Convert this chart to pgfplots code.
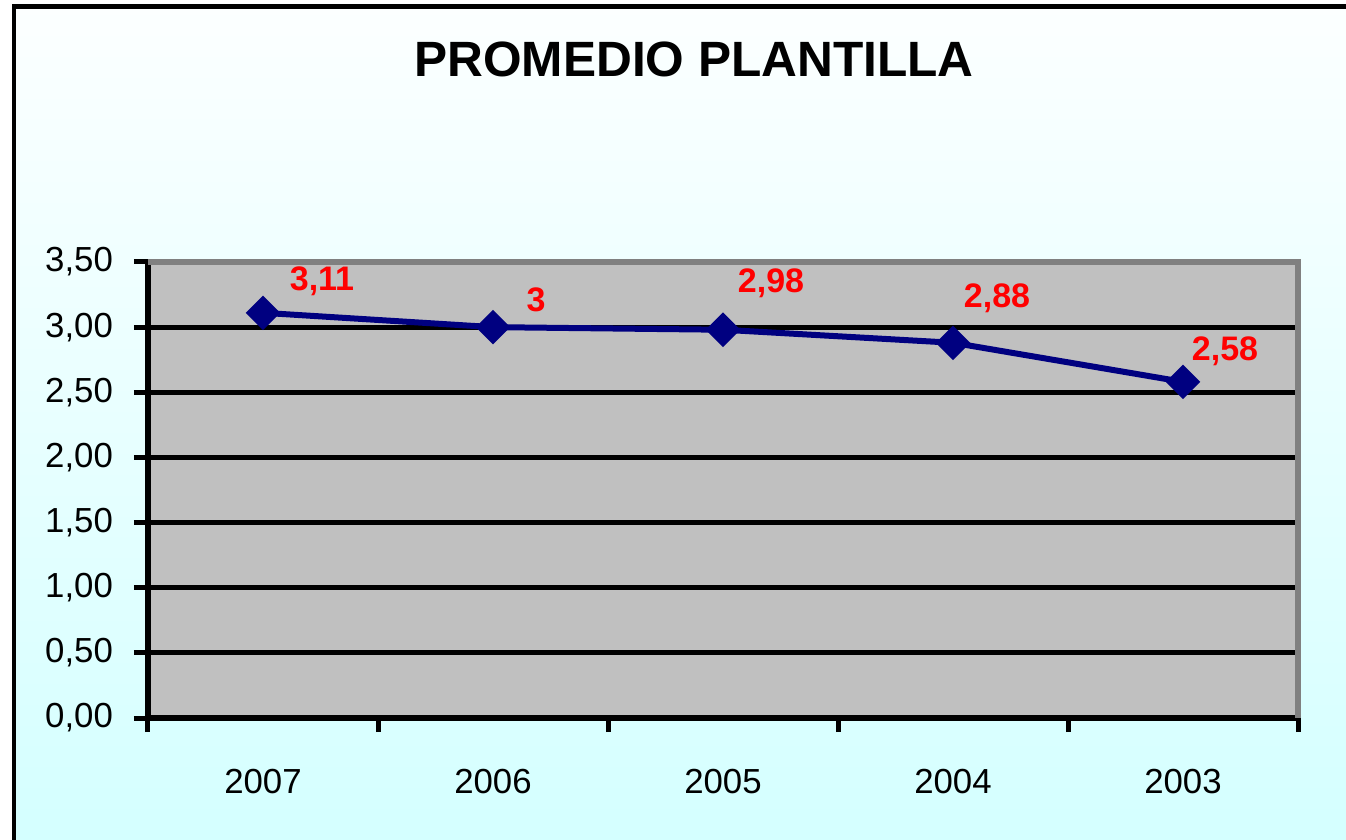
\documentclass[border=0pt]{standalone}
\usepackage{pgfplots}
\pgfplotsset{compat=1.18}
\usepackage{pgfplotstable}
\usepackage{fontspec}
\setmainfont{Liberation Sans}
\definecolor{bgtop}{HTML}{FCFFFF}
\definecolor{bgbot}{HTML}{D4FFFF}
\definecolor{plotgray}{HTML}{C0C0C0}
\definecolor{bordergray}{HTML}{808080}
\definecolor{navyline}{HTML}{000080}
\pgfplotstableread{
x y lbl dx dy
0 3.11 {3,11} 29.5 16
1 3.00 {3} 21.5 13.5
2 2.98 {2,98} 24 23
3 2.88 {2,88} 22 22.5
4 2.58 {2,58} 21 15.5
}\datatable
\begin{document}
\begin{tikzpicture}
\path[use as bounding box] (0,0) rectangle (673pt,-420pt);
\fill[white] (0,0) rectangle (673pt,-420pt);
\shade[top color=bgtop, bottom color=bgbot] (6pt,-2pt) rectangle (673pt,-420pt);
\draw[black, line width=2.25pt] (7pt,-421pt) -- (7pt,-3.25pt) -- (674pt,-3.25pt);
\node[font=\bfseries\fontsize{24.8}{29}\selectfont] at (347pt,-29.5pt) {PROMEDIO PLANTILLA};
\begin{axis}[
  at={(74pt,-359pt)}, anchor=south west,
  scale only axis, width=575pt, height=228pt,
  xmin=-0.5, xmax=4.5, ymin=0, ymax=3.5,
  axis background/.style={fill=plotgray},
  axis x line*=bottom, axis y line*=left,
  axis line style={-, black, line width=3pt},
  xtick={0,...,4}, xticklabels={2007,2006,2005,2004,2003},
  major x tick style={draw=none},
  minor xtick={-0.5,0.5,1.5,2.5,3.5,4.5},
  minor x tick style={black, line width=2.5pt},
  minor tick length=7pt,
  ytick={0,0.5,...,3.5},
  major y tick style={black, line width=2.5pt},
  major tick length=7pt,
  tick align=outside,
  ymajorgrids, major grid style={black, line width=2.5pt},
  ticklabel style={font=\fontsize{17.4}{20}\selectfont},
  /pgf/number format/assume math mode=true,
  yticklabel style={xshift=-7pt, /pgf/number format/fixed, /pgf/number format/fixed zerofill, /pgf/number format/precision=2, /pgf/number format/use comma},
  xticklabel style={yshift=-15pt},
  clip=false,
]
\draw[bordergray, line width=3pt] (rel axis cs:0,1) -- (rel axis cs:1,1) -- (rel axis cs:1,0);
\addplot[navyline, line width=3pt, mark=square*, mark size=4.6pt,
  mark options={rotate=45, rounded corners=1pt},
  point meta=explicit symbolic,
  visualization depends on={\thisrow{dx} \as \dx},
  visualization depends on={\thisrow{dy} \as \dy},
  nodes near coords,
  nodes near coords style={anchor=center, xshift=\dx pt, yshift=\dy pt, text=red, font=\bfseries\fontsize{17}{20}\selectfont}
] table[x=x, y=y, meta=lbl] {\datatable};
\end{axis}
\end{tikzpicture}
\end{document}
